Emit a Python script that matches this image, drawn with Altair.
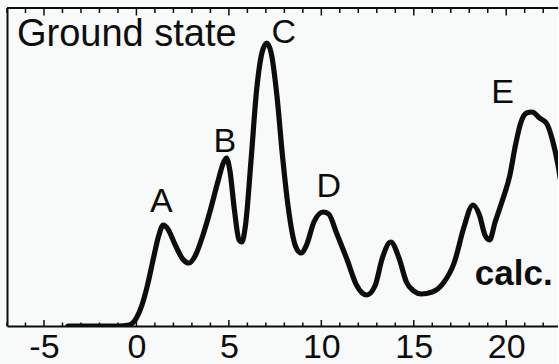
import altair as alt
import pandas as pd

# Calculated ground-state spectrum (energy in eV, intensity in arbitrary units)
energy = [-3.7, -1.0, -0.4, 0.0, 0.3, 0.6, 0.9, 1.2, 1.45, 1.7, 2.1, 2.5, 2.85,
          3.2, 3.6, 4.0, 4.4, 4.7, 4.87, 5.05, 5.3, 5.55, 5.7, 5.9, 6.2, 6.5,
          6.8, 7.05, 7.3, 7.6, 7.9, 8.2, 8.6, 8.9, 9.2, 9.6, 10.1, 10.4, 10.8,
          11.4, 11.9, 12.45, 12.9, 13.3, 13.75, 14.2, 14.6, 15.0, 15.4, 16.0,
          16.6, 17.2, 17.7, 18.2, 18.55, 18.85, 19.1, 19.4, 19.8, 20.2, 20.5,
          20.8, 21.1, 21.4, 21.8, 22.2, 22.5, 22.8, 23.1]
intensity = [0, 0, 1, 8, 21, 41, 66, 90, 101, 97, 81, 67, 63,
             71, 91, 116, 144, 163, 168, 156, 116, 86, 84, 101, 166, 236,
             274, 283, 272, 230, 170, 120, 80, 73, 81, 104, 114, 112, 94,
             66, 41, 31, 40, 68, 84, 68, 44, 35, 32, 34,
             43, 64, 98, 121, 111, 91, 86, 104, 126, 151, 181,
             204, 213, 214, 208, 202, 186, 161, 126]

# Peak annotations and panel texts
label_text = ["A", "B", "C", "D", "E"]
label_x = [1.35, 4.78, 7.97, 10.4, 19.8]
label_y = [114, 174, 283, 129, 223]

x_min, x_max = -7, 22.8
y_min, y_max = 0, 318
minor_ticks = list(range(-7, 23))
major_ticks = [-5, 0, 5, 10, 15, 20]

ink = "#0d0d0d"
font = "Liberation Sans"

curve_df = pd.DataFrame({"energy": energy, "intensity": intensity})
label_df = pd.DataFrame({"label": label_text, "x": label_x, "y": label_y})
minor_df = pd.DataFrame({"t": [t for t in minor_ticks if t not in major_ticks]})
major_df = pd.DataFrame({"t": major_ticks})

x_scale = alt.Scale(domain=[x_min, x_max], nice=False, zero=False)
y_scale = alt.Scale(domain=[y_min, y_max], nice=False, zero=False)

x_axis = alt.Axis(
    values=major_ticks, ticks=False, grid=False, title=None,
    labelFont=font, labelFontSize=34, labelColor=ink, labelPadding=4,
    labelExpr="datum.value < 0 ? '-' + (-datum.value) : '' + datum.value",
    domainColor=ink, domainWidth=2,
)
y_axis = alt.Axis(labels=False, ticks=False, grid=False, title=None,
                  domainColor=ink, domainWidth=2)

curve = alt.Chart(curve_df).mark_line(
    color=ink, strokeWidth=5.2, interpolate="monotone", clip=True,
    strokeCap="round", strokeJoin="round",
).encode(
    x=alt.X("energy:Q", scale=x_scale, axis=x_axis),
    y=alt.Y("intensity:Q", scale=y_scale, axis=y_axis),
)

# Top frame line
top_line = alt.Chart(curve_df).mark_rule(color=ink, strokeWidth=2).encode(
    x=alt.value(0), x2=alt.value(551), y=alt.value(0)
)

# Inward ticks on the bottom and top axes
def tick_layer(df, y0, y1):
    return alt.Chart(df).mark_rule(color=ink, strokeWidth=1.5).encode(
        x=alt.X("t:Q", scale=x_scale), y=alt.value(y0), y2=alt.value(y1)
    )

ticks = (tick_layer(minor_df, 318, 314.5) + tick_layer(major_df, 318, 312)
         + tick_layer(minor_df, 0, 5) + tick_layer(major_df, 0, 7.5))

peak_labels = alt.Chart(label_df).mark_text(
    font=font, fontSize=34, color=ink, align="center", baseline="alphabetic"
).encode(x=alt.X("x:Q", scale=x_scale), y=alt.Y("y:Q", scale=y_scale), text="label:N")

title_text = alt.Chart(pd.DataFrame({"x": [-6.46], "y": [280], "t": ["Ground state"]})).mark_text(
    font=font, fontSize=38, color=ink, align="left", baseline="alphabetic"
).encode(x=alt.X("x:Q", scale=x_scale), y=alt.Y("y:Q", scale=y_scale), text="t:N")

calc_text = alt.Chart(pd.DataFrame({"x": [18.3], "y": [41], "t": ["calc."]})).mark_text(
    font=font, fontSize=35, fontWeight="bold", color=ink, align="left", baseline="alphabetic"
).encode(x=alt.X("x:Q", scale=x_scale), y=alt.Y("y:Q", scale=y_scale), text="t:N")

chart = alt.layer(curve, top_line, ticks, peak_labels, title_text, calc_text).properties(
    width=551, height=318,
    autosize=alt.AutoSizeParams(type="none"),
    padding={"left": 7, "top": 8, "right": 0, "bottom": 38},
    background="#f7faf8",
).configure_view(stroke=None)

chart.save("out.html", embed_options={"renderer": "svg", "actions": False})
